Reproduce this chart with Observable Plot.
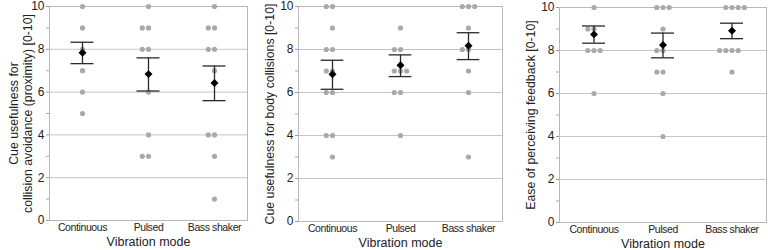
<!DOCTYPE html>
<html>
<head>
<meta charset="utf-8">
<script src="https://cdn.jsdelivr.net/npm/d3@7"></script>
<script src="https://cdn.jsdelivr.net/npm/@observablehq/plot@0.6"></script>
<style>
  html, body { margin: 0; padding: 0; background: #fff; }
  #row { display: flex; width: 768px; height: 250px; }
  #row svg { display: block; }
  g[aria-label^="fx-axis"] text { font-family: "Liberation Sans Narrow", "Arial Narrow", "Liberation Sans", sans-serif; font-size: 10.5px; letter-spacing: -0.4px; }
</style>
</head>
<body>
<div id="row"></div>
<script>
// ---- data ----
const modes = ["Continuous", "Pulsed", "Bass shaker"];
const majorTicks = [0, 2, 4, 6, 8, 10];
const minorTicks = [1, 3, 5, 7, 9];

// Panel 1: cue usefulness for collision avoidance (proximity)
const proximityContinuous = [10, 9, 8, 7, 6, 5];
const proximityPulsed = [10, 9, 9, 8, 8, 6, 4, 3, 3];
const proximityBass = [10, 9, 9, 8, 8, 7, 4, 4, 3, 1];
const proximityMean = [7.84, 6.84, 6.43];
const proximityLow = [7.33, 6.05, 5.6];
const proximityHigh = [8.33, 7.6, 7.22];

// Panel 2: cue usefulness for body collisions
const bodyContinuous = [10, 10, 9, 8, 8, 7, 7, 6, 6, 4, 4, 3];
const bodyPulsed = [9, 8, 8, 7, 7, 7, 6, 6, 4];
const bodyBass = [10, 10, 10, 9, 8, 8, 7, 6, 3];
const bodyMean = [6.85, 7.27, 8.17];
const bodyLow = [6.15, 6.74, 7.53];
const bodyHigh = [7.5, 7.75, 8.78];

// Panel 3: ease of perceiving feedback
const easeContinuous = [10, 9, 9, 8, 8, 8, 6];
const easePulsed = [10, 10, 10, 9, 8, 8, 7, 7, 6, 4];
const easeBass = [10, 10, 10, 10, 8, 8, 8, 8, 7];
const easeMean = [8.75, 8.26, 8.92];
const easeLow = [8.34, 7.66, 8.55];
const easeHigh = [9.14, 8.81, 9.27];

const yLabels = [
  "Cue usefulness for\ncollision avoidance (proximity) [0-10]",
  "Cue usefulness for body collisions [0-10]",
  "Ease of perceiving feedback [0-10]"
];
const xLabel = "Vibration mode";

// ---- drawing ----
const FONT = "'Liberation Sans', Arial, Helvetica, sans-serif";

function panel(ratings, mean, low, high, yLabel, m) {
  const pts = modes.flatMap((mode, i) => ratings[i].map(v => ({mode, value: v})));
  const stats = modes.map((mode, i) => ({mode, mean: mean[i], low: low[i], high: high[i]}));
  const width = 256, height = 250;
  const facetW = (width - m.left - m.right) / modes.length;
  const capW = 23;
  const capInset = (facetW - capW) / 2;
  const hasAxisMarks = typeof Plot.axisY === "function";
  const marks = [
    Plot.ruleY(majorTicks, {stroke: "#c6c6c6", strokeWidth: 1}),
    Plot.frame({facet: "super", stroke: "#b8b8b8"}),
    Plot.dot(pts, Plot.dodgeX("middle", {fx: "mode", y: "value", r: 2.6, fill: "#a9a9a9", padding: -1.2})),
    Plot.ruleX(stats, {fx: "mode", x: null, y1: "low", y2: "high", stroke: "#2a2a2a", strokeWidth: 1.3}),
    Plot.tickY(stats, {fx: "mode", y: "low", insetLeft: capInset, insetRight: capInset, stroke: "#2a2a2a", strokeWidth: 1.3}),
    Plot.tickY(stats, {fx: "mode", y: "high", insetLeft: capInset, insetRight: capInset, stroke: "#2a2a2a", strokeWidth: 1.3}),
    Plot.dot(stats, {fx: "mode", y: "mean", symbol: "diamond2", r: 3.6, fill: "#000", stroke: "none"}),
    Plot.text([yLabel], {facet: "super", text: d => d, frameAnchor: "left", rotate: -90, dx: -29, textAnchor: "middle", lineAnchor: "middle", fontSize: 12.3, lineHeight: 1.15, fill: "#222"}),
    Plot.text([xLabel], {facet: "super", text: d => d, frameAnchor: "bottom", dy: 21, textAnchor: "middle", lineAnchor: "middle", fontSize: 12.5, fill: "#222"})
  ];
  if (hasAxisMarks) {
    marks.push(Plot.axisY(majorTicks, {tickSize: 3, tickPadding: 2, label: null, stroke: "#999", fontSize: 12, fill: "#222"}));
    marks.push(Plot.axisY(minorTicks, {tickSize: 3, tickFormat: () => "", label: null, stroke: "#aaa"}));
  }
  return Plot.plot({
    width, height,
    marginLeft: m.left, marginRight: m.right, marginTop: m.top, marginBottom: m.bottom,
    style: {fontFamily: FONT, fontSize: "12px", color: "#222", background: "#fff", overflow: "visible"},
    y: {domain: [0, 10], ticks: majorTicks, tickSize: 3, label: null},
    fx: {domain: modes, padding: 0, label: null, tickSize: 0, tickPadding: 3, axis: "bottom"},
    marks
  });
}

const row = document.getElementById("row");
row.append(panel([proximityContinuous, proximityPulsed, proximityBass], proximityMean, proximityLow, proximityHigh, yLabels[0], {left: 49, right: 9, top: 6, bottom: 30}));
row.append(panel([bodyContinuous, bodyPulsed, bodyBass], bodyMean, bodyLow, bodyHigh, yLabels[1], {left: 41, right: 10, top: 6, bottom: 29}));
row.append(panel([easeContinuous, easePulsed, easeBass], easeMean, easeLow, easeHigh, yLabels[2], {left: 47, right: 2, top: 7, bottom: 28}));
</script>
</body>
</html>
